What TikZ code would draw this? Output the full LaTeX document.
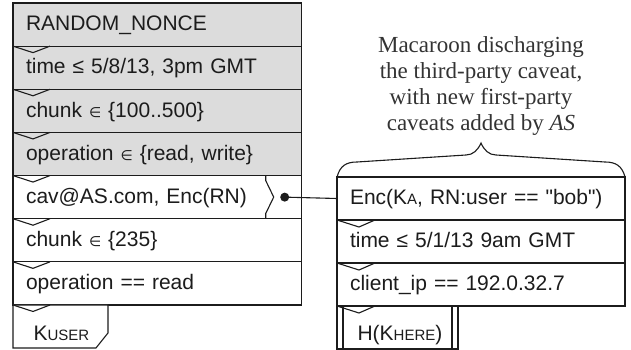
\documentclass[tikz,border=0pt]{standalone}
\usepackage{fontspec}
\setmainfont{Liberation Sans}[Ligatures=TeXOff]
\newfontfamily\capfont{Liberation Serif}
\newfontfamily\symfont{DejaVu Sans}
\usetikzlibrary{calc}
\newcommand{\elm}{{\symfont\fontsize{14}{14}\selectfont ∈}}
\newcommand{\smc}[1]{{\fontsize{15}{15}\selectfont #1}}
\definecolor{cavgray}{HTML}{DCDCDC}
\definecolor{ink}{HTML}{1C1C1C}
\definecolor{capink}{HTML}{333333}
\tikzset{
  cavrow/.style={draw=ink, rectangle, anchor=north west, minimum height=43.14pt,
    inner xsep=13pt, inner ysep=0pt, outer sep=0pt, align=left, text height=12.5pt, text depth=0pt,
    font=\fontsize{21}{25}\selectfont, text=ink},
  leftrow/.style={cavrow, minimum width=288.7pt, text width=262.7pt},
  rightrow/.style={cavrow, minimum width=288pt, text width=262pt, minimum height=43pt, fill=white},
  keytext/.style={anchor=base west, inner sep=0pt, font=\fontsize{21}{25}\selectfont, text=ink},
  notch/.style={draw=ink, line join=miter},
  edge/.style={draw=ink, line width=1.1pt}
}
\begin{document}
\begin{tikzpicture}[x=1pt, y=-1pt, line width=1.1pt, color=ink]
\useasboundingbox (0,0) rectangle (631,350);

% left macaroon
\node[leftrow, fill=cavgray] (r1) at (13,3) {RANDOM\_NONCE};
\node[leftrow, fill=cavgray] (r2) at (r1.south west) {time ≤ 5/8/13, 3pm GMT};
\node[leftrow, fill=cavgray] (r3) at (r2.south west) {chunk \elm{} \{100..500\}};
\node[leftrow, fill=cavgray] (r4) at (r3.south west) {operation \elm{} \{read, write\}};
\node[leftrow, fill=white] (r5) at (r4.south west) {cav@AS.com, Enc(RN)};
\node[leftrow, fill=white] (r6) at (r5.south west) {chunk \elm{} \{235\}};
\node[leftrow, fill=white] (r7) at (r6.south west) {operation == read};

% left key box
\draw[edge, fill=white] (r7.south west) -- ++(95,0) -- ++(0,28) -- ++(-12,15)
  -- ($(r7.south west)+(0,43)$) -- cycle;
\node[keytext] (kuser) at ($(r7.south west)+(20,35.5)$) {K\smc{USER}};

% notches on the left
\foreach \r in {r2,r3,r4,r5,r6,r7}{
  \draw[notch] (\r.north west) -- ++(20,6.5) -- ++(17,-6.5);
}
\draw[notch] (r7.south west) -- ++(20,6.5) -- ++(17,-6.5);

% third-party caveat marker
\draw[edge] ($(r5.north east)+(-36,0)$) -- ++(0,5) -- ++(8,16.5) -- ++(-8,16.5)
  -- ($(r5.south east)+(-36,0)$);
\node[circle, fill=ink, inner sep=0pt, outer sep=0pt, minimum size=9pt] (dot) at ($(r5.east)+(-17,0)$) {};

% right discharge macaroon
\node[rightrow] (e1) at (337,177) {Enc(K\smc{A}, RN:user == "bob")};
\node[rightrow] (e2) at (e1.south west) {time ≤ 5/1/13 9am GMT};
\node[rightrow] (e3) at (e2.south west) {client\_ip == 192.0.32.7};

% right key box (double sides)
\draw[edge, fill=white] (e3.south west) rectangle ($(e3.south west)+(121,43)$);
\draw[edge] ($(e3.south west)+(6,0)$) -- ++(0,43);
\draw[edge] ($(e3.south west)+(115,0)$) -- ++(0,43);
\node[keytext] (khere) at ($(e3.south west)+(20,34.5)$) {H(K\smc{HERE})};

\foreach \r in {e2,e3}{
  \draw[notch] (\r.north west) -- ++(22,7) -- ++(16,-7);
}
\draw[notch] (e3.south west) -- ++(22,7) -- ++(16,-7);

% connector
\draw[edge] (dot.center) -- (e1.west);

% brace and caption
\coordinate (btip) at (481,143);
\draw[edge] (e1.north west) .. controls ($(e1.north west)+(3,-11)$) and ($(e1.north west)+(9,-15)$) .. ($(e1.north west)+(20,-15)$)
  -- ($(btip)+(-15,12)$) .. controls ($(btip)+(-8,12)$) and ($(btip)+(-3,7)$) .. (btip)
  .. controls ($(btip)+(3,7)$) and ($(btip)+(8,12)$) .. ($(btip)+(15,12)$)
  -- ($(e1.north east)+(-20,-15)$) .. controls ($(e1.north east)+(-9,-15)$) and ($(e1.north east)+(-3,-11)$) .. (e1.north east);
\node[align=center, inner sep=0pt, text=capink, font=\capfont\fontsize{23}{26.3}\selectfont] (cap) at (481,86)
  {Macaroon discharging\\the third-party caveat,\\with new first-party\\caveats added by \textit{AS}};
\end{tikzpicture}
\end{document}
